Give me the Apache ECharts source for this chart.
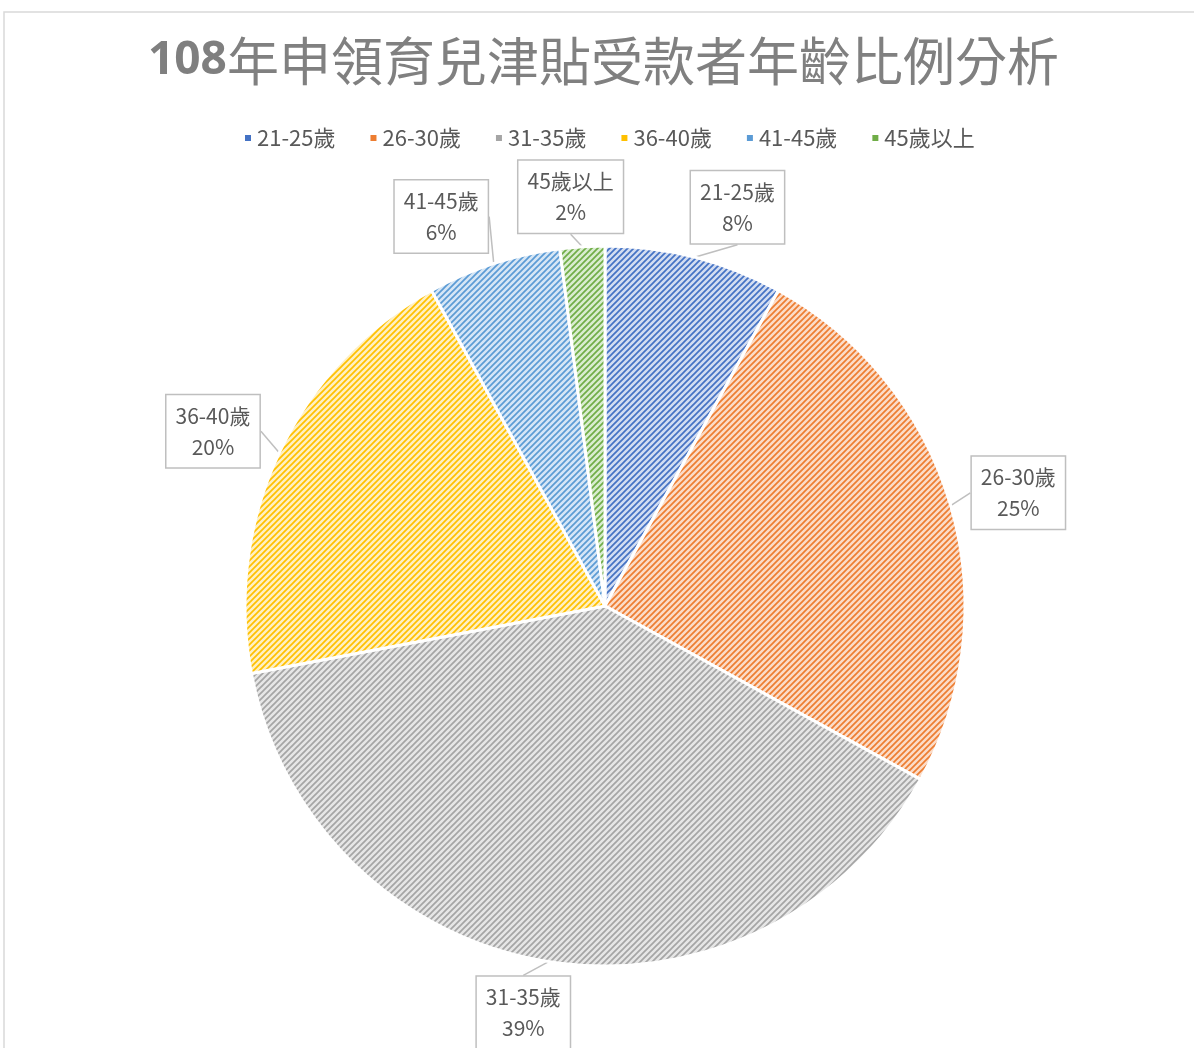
<!DOCTYPE html>
<html>
<head>
<meta charset="utf-8">
<script src="https://cdn.jsdelivr.net/npm/echarts@6/dist/echarts.min.js"></script>
<style>
  html, body { margin: 0; padding: 0; background: #fff; }
  #main { width: 1194px; height: 1048px; }
</style>
</head>
<body>
<div id="main"></div>
<script>
const titleNum = '108'
const titleText = '年申領育兒津貼受款者年齡比例分析'
const categories = ['21-25歲', '26-30歲', '31-35歲', '36-40歲', '41-45歲', '45歲以上']
const values = [8, 25, 39, 20, 6, 2]

const colors = ['#4472C4', '#ED7D31', '#A5A5A5', '#FFC000', '#5B9BD5', '#70AD47']
const tints = ['#d3ddf1', '#fbdcc8', '#e6e6e6', '#fff0c2', '#d6e6f5', '#d9ecd0']
// small tweaks so the callouts sit where Excel put them
const labelNudge = [[28, 8], [10, 4], [-16, -8], [-12, 4], [-34, 10], [-8, 10]]

const cx = 605
const cy = 606
const r = 360

// diagonal hatch like Excel's "wide upward diagonal"
function hatch(fg, bg) {
  const c = document.createElement('canvas')
  c.width = 6
  c.height = 6
  const ctx = c.getContext('2d')
  ctx.fillStyle = bg
  ctx.fillRect(0, 0, 6, 6)
  ctx.strokeStyle = fg
  ctx.lineWidth = 1.7
  ctx.beginPath()
  ctx.moveTo(-1, 7); ctx.lineTo(7, -1)
  ctx.moveTo(-1, 1); ctx.lineTo(1, -1)
  ctx.moveTo(5, 7); ctx.lineTo(7, 5)
  ctx.stroke()
  return { image: c, repeat: 'repeat' }
}

const total = values.reduce((a, b) => a + b, 0)
const midAngles = []
let acc = 0
values.forEach(v => {
  midAngles.push((acc + v / 2) / total * Math.PI * 2)
  acc += v
})

const pieData = categories.map((name, i) => ({
  name: name,
  value: values[i],
  itemStyle: { color: hatch(colors[i], tints[i]) }
}))

const legendData = categories.map((name, i) => ({
  name: name,
  itemStyle: { color: colors[i] }
}))

const chart = echarts.init(document.getElementById('main'))
chart.setOption({
  animation: false,
  backgroundColor: '#fff',
  graphic: [{
    type: 'rect',
    shape: { x: 4, y: 12, width: 1400, height: 1200 },
    style: { fill: 'none', stroke: '#d9d9d9', lineWidth: 1.5 },
    silent: true
  }],
  title: {
    text: '{n|' + titleNum + '}{t|' + titleText + '}',
    left: 143,
    top: 30,
    textStyle: {
      rich: {
        n: { fontSize: 46, fontWeight: 'bold', color: '#7f7f7f', fontFamily: 'Noto Sans, sans-serif' },
        t: { fontSize: 52, fontWeight: 'normal', color: '#808080', fontFamily: 'Noto Sans CJK TC' }
      }
    }
  },
  legend: {
    top: 122,
    left: 238,
    icon: 'rect',
    itemWidth: 8,
    itemHeight: 8,
    itemGap: 33,
    data: legendData,
    textStyle: { fontSize: 22, color: '#595959', fontFamily: 'Noto Sans CJK TC' }
  },
  series: [{
    type: 'pie',
    center: [cx, cy],
    radius: r,
    startAngle: 90,
    clockwise: true,
    data: pieData,
    itemStyle: { borderColor: '#fff', borderWidth: 3 },
    label: {
      show: true,
      position: 'outside',
      formatter: '{b}\n{d}%',
      fontSize: 21,
      lineHeight: 31,
      color: '#595959',
      fontFamily: 'Noto Sans CJK TC',
      backgroundColor: '#fff',
      borderColor: '#bfbfbf',
      borderWidth: 1.5,
      padding: [6, 9, 4, 9]
    },
    labelLine: {
      show: true,
      length: 10,
      length2: 0,
      lineStyle: { color: '#bfbfbf', width: 1.5 }
    },
    labelLayout: function (p) {
      const a = midAngles[p.dataIndex]
      const d = 420
      return {
        x: cx + d * Math.sin(a) + labelNudge[p.dataIndex][0],
        y: cy - d * Math.cos(a) + labelNudge[p.dataIndex][1],
        align: 'center',
        verticalAlign: 'middle'
      }
    },
    emphasis: { disabled: true }
  }]
})
</script>
</body>
</html>
